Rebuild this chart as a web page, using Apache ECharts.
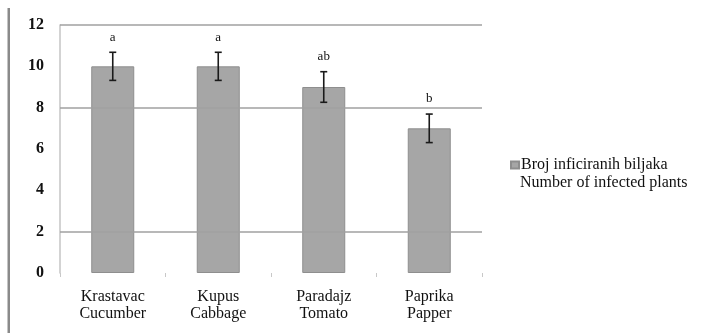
<!DOCTYPE html>
<html><head><meta charset="utf-8">
<script src="https://cdn.jsdelivr.net/npm/echarts@6/dist/echarts.min.js"></script>
<style>html,body{margin:0;padding:0;background:#fff}#c{width:707px;height:333px}</style>
</head><body><div id="c"></div>
<script>
const categories = ['Krastavac\nCucumber', 'Kupus\nCabbage', 'Paradajz\nTomato', 'Paprika\nPapper'];
const values = [10, 10, 9, 7];
const errors = [0.68, 0.68, 0.74, 0.69];
const letters = ['a', 'a', 'ab', 'b'];
const gridValues = [12, 8, 2];
const legendLine1 = 'Broj inficiranih biljaka';
const legendLine2 = 'Number of infected plants';

const serif = '"Liberation Serif", "Times New Roman", serif';
const chart = echarts.init(document.getElementById('c'));
chart.setOption({
  animation: false,
  grid: { left: 60, right: 225, top: 25, bottom: 60 },
  graphic: [
    { type: 'rect', shape: { x: 7.5, y: 8, width: 2.5, height: 325 }, style: { fill: '#8a8a8a' } },
    { type: 'text', left: 520, top: 175, style: { text: legendLine2, font: '16px ' + serif, fill: '#111' } }
  ],
  legend: {
    left: 510, top: 157, orient: 'vertical', padding: 0,
    itemWidth: 8, itemHeight: 7, itemGap: 0,
    icon: 'rect',
    textStyle: { fontFamily: serif, fontSize: 16, lineHeight: 16, color: '#111', padding: [0, 0, 0, -3] },
    data: [legendLine1]
  },
  xAxis: {
    type: 'category', data: categories,
    axisLine: { show: false },
    axisTick: { show: true, length: 4, lineStyle: { color: '#c8c8c8' } },
    axisLabel: { fontFamily: serif, fontSize: 16, color: '#111', margin: 15, lineHeight: 17 }
  },
  yAxis: {
    type: 'value', min: 0, max: 12, interval: 2,
    axisLine: { show: true, lineStyle: { color: '#c4c4c4', width: 1.5 } },
    axisTick: { show: false },
    splitLine: { show: false },
    axisLabel: { fontFamily: serif, fontSize: 16, fontWeight: 'bold', color: '#111', margin: 16 }
  },
  series: [
    {
      type: 'line', data: [], z: 0, silent: true,
      markLine: {
        symbol: 'none', silent: true, label: { show: false },
        lineStyle: { color: '#a0a0a0', width: 1.5, type: 'solid' },
        data: gridValues.map(v => ({ yAxis: v }))
      }
    },
    {
      name: legendLine1, type: 'bar', data: values, barWidth: 43, z: 2,
      itemStyle: { color: '#a6a6a6', borderColor: '#8e8e8e', borderWidth: 1 }
    },
    {
      type: 'custom', z: 3, silent: true,
      data: values.map((v, i) => [i, v + errors[i], v - errors[i], letters[i]]),
      renderItem: function (params, api) {
        const top = api.coord([api.value(0), api.value(1)]);
        const bot = api.coord([api.value(0), api.value(2)]);
        const x = top[0], w = 3.5;
        const st = { stroke: '#1a1a1a', lineWidth: 1.6 };
        return {
          type: 'group', children: [
            { type: 'line', shape: { x1: x, y1: top[1], x2: x, y2: bot[1] }, style: st },
            { type: 'line', shape: { x1: x - w, y1: top[1], x2: x + w, y2: top[1] }, style: st },
            { type: 'line', shape: { x1: x - w, y1: bot[1], x2: x + w, y2: bot[1] }, style: st },
            { type: 'text', style: { text: letters[params.dataIndex], x: x, y: top[1] - 15, align: 'center', verticalAlign: 'middle', font: '13px ' + serif, fill: '#111' } }
          ]
        };
      }
    }
  ]
});
</script></body></html>
